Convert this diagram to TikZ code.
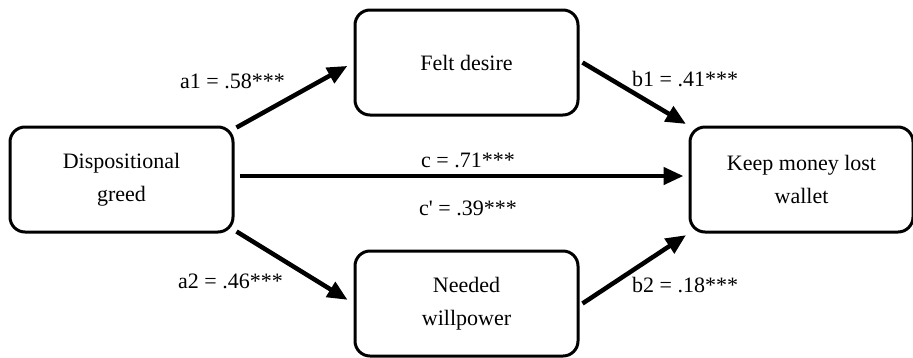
\documentclass[tikz,border=0pt]{standalone}
\usepackage{fontspec}
\setmainfont{Liberation Serif}
\usetikzlibrary{arrows.meta}

\begin{document}
\begin{tikzpicture}[x=1pt,y=-1pt,>={Triangle[length=20pt,width=17pt]}]

% sizes
\def\boxWidth{223pt}
\def\boxHeight{105pt}
\def\labelFont{\fontsize{22}{33}\selectfont}

\tikzset{
  varBox/.style={draw, line width=3pt, rounded corners=15pt,
    minimum width=\boxWidth, minimum height=\boxHeight,
    align=center, font=\labelFont, inner sep=0pt},
  pathArrow/.style={->, line width=4.5pt},
  coefLabel/.style={font=\labelFont, anchor=base west, inner sep=0pt},
  totalLabel/.style={font=\labelFont, anchor=base, inner sep=0pt},
}

\useasboundingbox (0,0) rectangle (913,357);

% variable boxes
\node[varBox] (greedBox) at (121.5,179.5) {Dispositional\\greed};
\node[varBox] (desireBox) at (466.5,62.5) {Felt desire};
\node[varBox] (willpowerBox) at (466.5,303.5) {Needed\\willpower};
\node[varBox] (keepBox) at (801.5,179.5) {Keep money lost\\wallet};

% indirect paths through felt desire
\draw[pathArrow, shorten >=7pt] ([shift={(2,2)}]greedBox.north east) -- (desireBox.west);
\draw[pathArrow, shorten >=3pt] ([xshift=3pt]desireBox.east) -- (keepBox.north west);

% indirect paths through needed willpower
\draw[pathArrow, shorten >=7pt] ([shift={(2,-2)}]greedBox.south east) -- (willpowerBox.west);
\draw[pathArrow, shorten >=3pt] ([xshift=3pt]willpowerBox.east) -- (keepBox.south west);

% direct path
\draw[pathArrow, shorten <=5pt, shorten >=5pt] ([yshift=3.5pt]greedBox.east) -- ([yshift=3.5pt]keepBox.west);

% coefficients
\node[coefLabel] (labelA1) at (180,88) {a1 = .58***};
\node[coefLabel] (labelB1) at (632,86) {b1 = .41***};
\node[coefLabel] (labelA2) at (178,288) {a2 = .46***};
\node[coefLabel] (labelB2) at (632,292) {b2 = .18***};
\node[totalLabel] (labelC) at (468,167) {c = .71***};
\node[totalLabel] (labelCprime) at (468,215) {c\textquotesingle{} = .39***};

\end{tikzpicture}
\end{document}
